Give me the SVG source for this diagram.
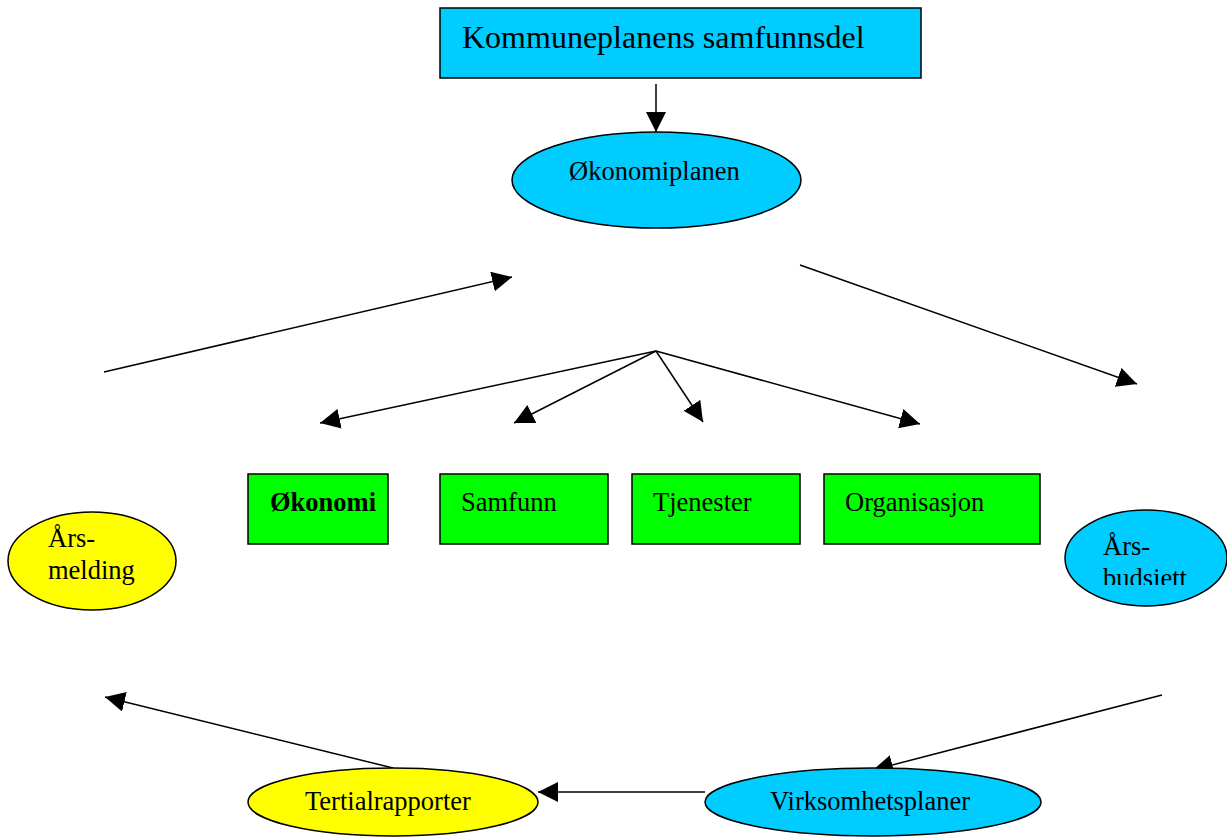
<svg xmlns="http://www.w3.org/2000/svg" width="1227" height="838" viewBox="0 0 1227 838">
<style>
.t{font-family:"Liberation Serif","Times New Roman",serif;font-size:26.5px;fill:#000}
.big{font-size:32px}
.b{font-weight:bold}
.shape{stroke:#000;stroke-width:1.5}
.cyan{fill:#00CCFF}
.green{fill:#00FF00}
.yellow{fill:#FFFF00}
.c{stroke:#000;stroke-width:1.5;fill:none;marker-end:url(#ah)}
</style>
<defs>
<marker id="ah" markerUnits="userSpaceOnUse" markerWidth="20" markerHeight="20" refX="20" refY="10" orient="auto" viewBox="0 0 20 20">
<path d="M0,0 L20,10 L0,20 z" fill="#000"/>
</marker>
<clipPath id="clipBud"><rect x="1050" y="500" width="177" height="85"/></clipPath>
</defs>
<rect width="1227" height="838" fill="#fff"/>
<g id="connectors">
<line class="c" x1="656" y1="84" x2="656" y2="132"/>
<line class="c" x1="104" y1="372" x2="512" y2="277"/>
<line class="c" x1="800" y1="265" x2="1137" y2="384"/>
<line class="c" x1="656" y1="351" x2="320" y2="423"/>
<line class="c" x1="656" y1="351" x2="514" y2="423"/>
<line class="c" x1="656" y1="351" x2="703" y2="422"/>
<line class="c" x1="656" y1="351" x2="920" y2="424"/>
<line class="c" x1="1162" y1="695" x2="873" y2="770"/>
<line class="c" x1="705" y1="792" x2="538" y2="792"/>
<line class="c" x1="393" y1="768" x2="105" y2="697"/>
</g>
<g id="kommuneplan">
<rect class="shape cyan" x="440" y="8" width="481" height="70"/>
<text class="t big" x="462" y="48">Kommuneplanens samfunnsdel</text>
</g>
<g id="okonomiplanen">
<ellipse class="shape cyan" cx="656.5" cy="180" rx="144.5" ry="48"/>
<text class="t" x="569" y="180">Økonomiplanen</text>
</g>
<g id="okonomi">
<rect class="shape green" x="248" y="474" width="140" height="70"/>
<text class="t b" x="270" y="511">Økonomi</text>
</g>
<g id="samfunn">
<rect class="shape green" x="440" y="474" width="168" height="70"/>
<text class="t" x="461" y="511">Samfunn</text>
</g>
<g id="tjenester">
<rect class="shape green" x="632" y="474" width="168" height="70"/>
<text class="t" x="653" y="511">Tjenester</text>
</g>
<g id="organisasjon">
<rect class="shape green" x="824" y="474" width="216" height="70"/>
<text class="t" x="845" y="511">Organisasjon</text>
</g>
<g id="arsmelding">
<ellipse class="shape yellow" cx="92" cy="561" rx="84" ry="49"/>
<text class="t" x="48" y="547">Års-</text>
<text class="t" x="48" y="579">melding</text>
</g>
<g id="arsbudsjett">
<ellipse class="shape cyan" cx="1146" cy="558" rx="81" ry="48"/>
<g clip-path="url(#clipBud)">
<text class="t" x="1103" y="555">Års-</text>
<text class="t" x="1103" y="587">budsjett</text>
</g>
</g>
<g id="tertialrapporter">
<ellipse class="shape yellow" cx="393" cy="802" rx="145" ry="34"/>
<text class="t" x="305" y="810">Tertialrapporter</text>
</g>
<g id="virksomhetsplaner">
<ellipse class="shape cyan" cx="873" cy="802" rx="168" ry="34"/>
<text class="t" x="770" y="810">Virksomhetsplaner</text>
</g>
</svg>
